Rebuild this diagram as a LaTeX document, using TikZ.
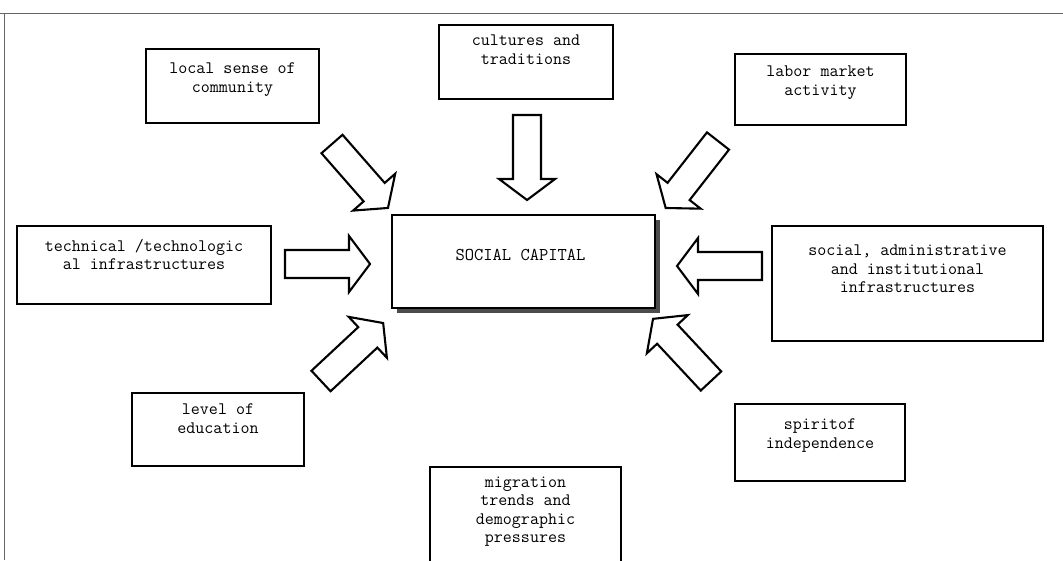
\documentclass[tikz,border=0pt]{standalone}
\usepackage{fontspec}
\usetikzlibrary{shadows}
\tikzset{
  box/.style={draw, line width=2.6pt, fill=white, inner sep=0pt},
  txt/.style={font=\ttfamily\fontsize{17.5}{18.5}\selectfont, align=center, inner sep=0pt},
  arrowline/.style={draw, line width=2.1pt, fill=white, line join=miter},
  blockarrow/.pic={
    \path[arrowline] (0,-14) -- (64,-14) -- (64,-28) -- (85,0)
      -- (64,28) -- (64,14) -- (0,14) -- cycle;},
  frame/.style={line width=1pt, black!60},
  hubshadow/.style={general shadow={fill=black!70, shadow xshift=5pt, shadow yshift=-5pt}},
}
\begin{document}
\begin{tikzpicture}[x=1pt, y=-1pt]
\useasboundingbox (0,0) rectangle (1063,560);
\clip (0,0) rectangle (1063,560);

% page frame
\draw[frame] (0,13) -- (1063,13);
\draw[frame] (4,13) -- (4,560);

% central box
\node[box, hubshadow, minimum width=263pt, minimum height=93pt,
      label={[txt, font=\ttfamily\fontsize{18}{19}\selectfont, yshift=7pt, xshift=-3pt]center:SOCIAL CAPITAL}]
      (hub) at (523.5,261.5) {};

% surrounding factors
\node[box, minimum width=173pt, minimum height=74pt,
      label={[txt, anchor=north, yshift=-15pt]north:{local sense of\\community}}]
      (local) at (232.5,86) {};
\node[box, minimum width=174pt, minimum height=74pt,
      label={[txt, anchor=north, yshift=-11pt]north:{cultures and\\traditions}}]
      (culture) at (526,62) {};
\node[box, minimum width=171pt, minimum height=71pt,
      label={[txt, anchor=north, yshift=-13pt]north:{labor market\\activity}}]
      (labor) at (820.5,89.5) {};
\node[box, minimum width=254pt, minimum height=78pt,
      label={[txt, anchor=north, yshift=-14pt]north:{technical /technologic\\al infrastructures}}]
      (tech) at (144,265) {};
\node[box, minimum width=271pt, minimum height=115pt,
      label={[txt, anchor=north, yshift=-20pt]north:{social, administrative\\and institutional\\infrastructures}}]
      (admin) at (907.5,283.5) {};
\node[box, minimum width=172pt, minimum height=73pt,
      label={[txt, anchor=north, yshift=-12pt]north:{level of\\education}}]
      (edu) at (218,429.5) {};
\node[box, minimum width=170pt, minimum height=77pt,
      label={[txt, anchor=north, yshift=-16pt]north:{spiritof\\independence}}]
      (spirit) at (820,442.5) {};
\node[box, minimum width=191pt, minimum height=108pt,
      label={[txt, anchor=north, yshift=-11pt]north:{migration\\trends and\\demographic\\pressures}}]
      (migr) at (525.5,521) {};

% block arrows pointing at the central box
\pic[rotate=-48.8] (arrlocal)   at (332,144) {blockarrow};
\pic[rotate=-90]   (arrculture) at (527,115) {blockarrow};
\pic[rotate=-128]  (arrlabor)   at (718,141) {blockarrow};
\pic[rotate=0]     (arrtech)    at (285,264) {blockarrow};
\pic[rotate=180]   (arradmin)   at (762,266) {blockarrow};
\pic[rotate=43]    (arredu)     at (321,381) {blockarrow};
\pic[rotate=133]   (arrspirit)  at (711,381) {blockarrow};
\end{tikzpicture}
\end{document}
